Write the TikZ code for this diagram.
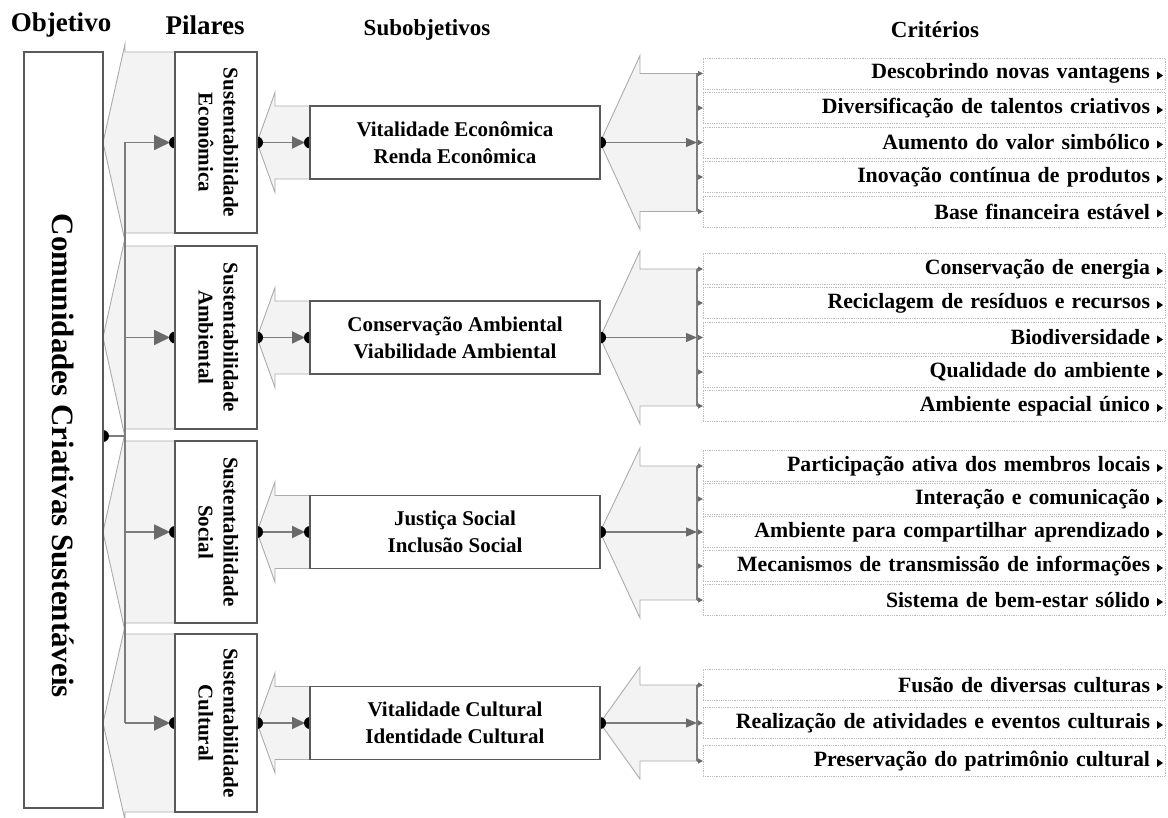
\documentclass[tikz,border=0pt]{standalone}
\usepackage{fontspec}
\setmainfont{Liberation Serif}
\usepackage{graphicx}
\usetikzlibrary{arrows.meta}

\definecolor{boxgray}{HTML}{5A5A5A}
\definecolor{chevfill}{HTML}{F3F3F3}
\definecolor{chevline}{HTML}{ABABAB}
\definecolor{linkgray}{HTML}{7C7C7C}
\definecolor{tipgray}{HTML}{6A6A6A}
\definecolor{critline}{HTML}{BDBDBD}

\newcommand\hfnt{\fontsize{27}{30}\selectfont\bfseries}
\newcommand\hfntb{\fontsize{23}{27}\selectfont\bfseries}
\newcommand\objfnt{\fontsize{31}{34}\selectfont\bfseries}
\newcommand\pilfnt{\fontsize{21}{25}\selectfont\bfseries}
\newcommand\subfnt{\fontsize{21}{27}\selectfont\bfseries}
\newcommand\crifnt{\fontsize{21.8}{24}\selectfont\bfseries}

\pgfdeclarelayer{back}
\pgfdeclarelayer{mid}
\pgfsetlayers{back,mid,main}

\begin{document}
\begin{tikzpicture}[x=1pt,y=-1pt,
  box/.style={draw=boxgray, line width=1.5pt, fill=white, inner sep=0pt, outer sep=0pt},
  chev/.style={fill=chevfill, draw=chevline, line width=0.9pt},
  link/.style={draw=linkgray, line width=1.8pt},
  brlink/.style={draw=linkgray, line width=1.2pt},
  tipL/.style={-{Triangle[length=16pt,width=15pt,color=tipgray]}},
  tipM/.style={-{Triangle[length=13pt,width=12pt,color=tipgray]}},
  tipC/.style={-{Triangle[length=11pt,width=9pt,color=tipgray]}},
  tipS/.style={-{Triangle[length=5pt,width=5pt,color=tipgray]}},
  crit/.style={draw=critline, densely dotted, line width=0.8pt, fill=white,
    minimum width=462pt, minimum height=31pt, text width=432pt, align=right,
    inner xsep=15pt, inner ysep=0pt, outer sep=0pt, font=\crifnt},
  head/.style={inner sep=0pt, font=\hfnt},
  headb/.style={inner sep=0pt, font=\hfntb}]
\useasboundingbox (0,0) rectangle (1168,818);

% column headings
\node[head] (hobj) at (61,25) {Objetivo};
\node[head] (hpil) at (205,25) {Pilares};
\node[headb] (hsub) at (427,30) {Subobjetivos};
\node[headb] (hcri) at (935,30) {Critérios};

% objective
\node[box, minimum width=79pt, minimum height=756pt] (obj) at (63.5,430) {};
\node[inner sep=0pt, font=\objfnt] (objtxt) at (63.5,456)
  {\rotatebox{-90}{Comunidades Criativas Sustentáveis}};

% pillars
\foreach \i/\c/\h/\lab in {1/142.5/181/Econômica, 2/337.5/183/Ambiental,
                          3/532/182/Social, 4/723/178/Cultural}
  \node[box, minimum width=82pt, minimum height=\h pt, font=\pilfnt] (p\i) at (216,\c)
    {\rotatebox{-90}{\begin{tabular}{@{}c@{}}Sustentabilidade\\\lab\end{tabular}}};

% sub-objectives
\foreach \i/\c/\a/\b in {1/142.5/Vitalidade Econômica/Renda Econômica,
                        2/337.5/Conservação Ambiental/Viabilidade Ambiental,
                        3/532/Justiça Social/Inclusão Social,
                        4/723/Vitalidade Cultural/Identidade Cultural}
  \node[box, minimum width=290pt, minimum height=73pt, align=center, font=\subfnt]
    (s\i) at (455,\c) {\a\\\b};

% criteria
\foreach \g/\j/\y/\t in {
  1/1/73.5/Descobrindo novas vantagens,
  1/2/108/Diversificação de talentos criativos,
  1/3/142.5/Aumento do valor simbólico,
  1/4/177/Inovação contínua de produtos,
  1/5/211.5/Base financeira estável,
  2/1/269/Conservação de energia,
  2/2/303/Reciclagem de resíduos e recursos,
  2/3/337.5/Biodiversidade,
  2/4/372/Qualidade do ambiente,
  2/5/406/Ambiente espacial único,
  3/1/466/Participação ativa dos membros locais,
  3/2/499/Interação e comunicação,
  3/3/532/Ambiente para compartilhar aprendizado,
  3/4/566/Mecanismos de transmissão de informações,
  3/5/600/Sistema de bem-estar sólido,
  4/1/685/Fusão de diversas culturas,
  4/2/723/Realização de atividades e eventos culturais,
  4/3/761/Preservação do patrimônio cultural}
{
  \node[crit] (c\g\j) at (934,\y) {\t};
  \fill ([shift={(-8,-2)}]c\g\j.east) -- ([shift={(-2,2)}]c\g\j.east)
     -- ([shift={(-8,6)}]c\g\j.east) -- cycle;
}

% grey arrow bands behind the links
\begin{pgfonlayer}{back}
  \foreach \t/\b/\c in {52/233/142.5, 246/429/337.5, 441/623/532, 634/812/723}
    \filldraw[chev] (175,\t) -- (125,\t) -- (125,\t-8) -- (103,\c)
      -- (125,\b+8) -- (125,\b) -- (175,\b);
  \foreach \c in {142.5, 337.5, 532, 723}
    \filldraw[chev] (310,\c-36.5) -- (275,\c-36.5) -- (275,\c-50) -- (257,\c)
      -- (275,\c+50) -- (275,\c+36.5) -- (310,\c+36.5);
  \foreach \c/\f/\l in {142.5/73.5/211.5, 337.5/269/406, 532/466/600, 723/685/761}
    \filldraw[chev] (697,\f) -- (640,\f) -- (640,\f-18) -- (600,\c)
      -- (640,\l+18) -- (640,\l) -- (697,\l);
\end{pgfonlayer}

% links and junction dots
\coordinate (objdot) at (103,436);
\coordinate (bus) at (125,436);
\coordinate (br) at (697,0);
\begin{pgfonlayer}{mid}
  \draw[link] (objdot) -- (bus);
  \draw[link] (p1.west -| bus) -- (p4.west -| bus);
  \foreach \i in {1,...,4} {
    \draw[link, tipL, shorten >=5pt] (p\i.west -| bus) -- (p\i.west);
    \draw[link, tipM, shorten >=5pt] (p\i.east) -- (s\i.west);
    \draw[brlink, tipC] (s\i.east) -- (s\i.east -| br);
    \fill (p\i.west) circle (6pt);
    \fill (p\i.east) circle (6pt);
    \fill (s\i.west) circle (6pt);
    \fill (s\i.east) circle (6pt);
  }
  \fill (objdot) circle (6pt);
  % brackets towards the criteria
  \foreach \g/\n in {1/5, 2/5, 3/5, 4/3} {
    \draw[link] (c\g1.west -| br) -- (c\g\n.west -| br);
    \foreach \j in {1,...,\n}
      \draw[brlink, tipS] (c\g\j.west -| br) -- (c\g\j.west);
  }
\end{pgfonlayer}
\end{tikzpicture}
\end{document}
